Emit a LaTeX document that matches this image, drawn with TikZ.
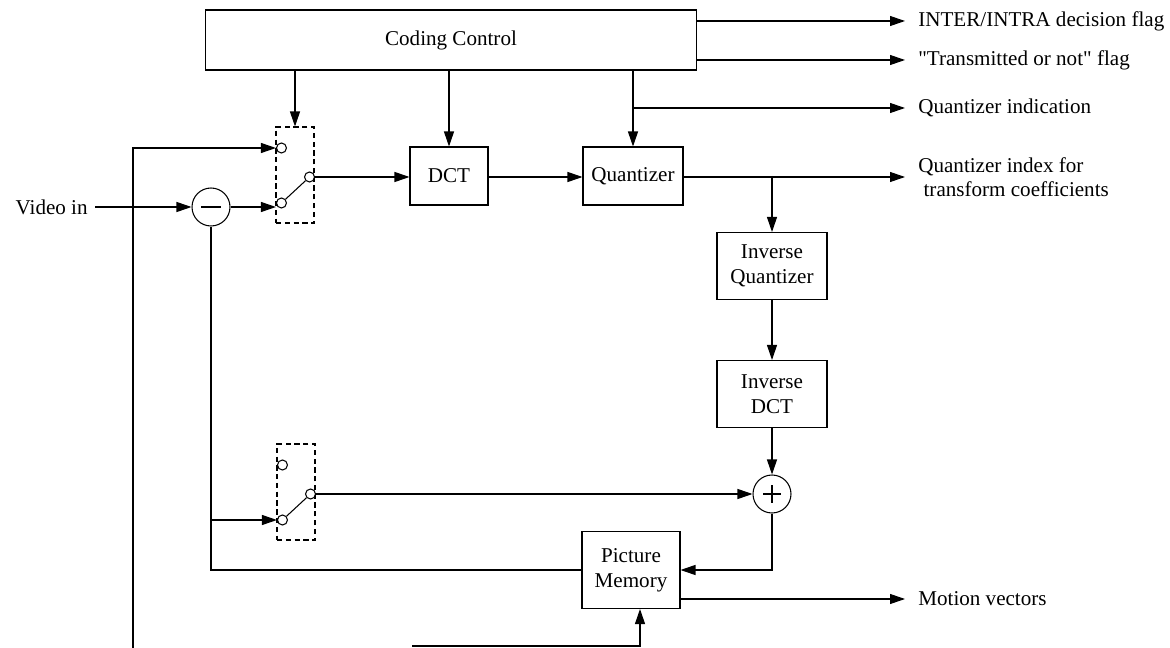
\documentclass[tikz,border=0pt]{standalone}
\usepackage{fontspec}
\setmainfont{Liberation Serif}
\newfontfamily\plainq{Liberation Serif}
\usetikzlibrary{positioning,arrows.meta,calc}

\begin{document}
\begin{tikzpicture}[x=0.02cm,y=-0.02cm,
    font=\fontsize{12}{14}\selectfont,
    box/.style={draw,line width=0.6pt,align=center,inner sep=0pt},
    sw/.style={draw,dash pattern=on 3pt off 2pt,line width=0.6pt,minimum width=0.76cm,minimum height=1.92cm,inner sep=0pt},
    pin/.style={draw,circle,line width=0.6pt,minimum size=0.2cm,inner sep=0pt,fill=white},
    sum/.style={draw,circle,line width=0.6pt,minimum size=0.76cm,inner sep=0pt},
    arr/.style={-{Triangle[length=0.3cm,width=0.2cm]},line width=0.6pt},
    ln/.style={line width=0.6pt},
    lbl/.style={anchor=west,inner xsep=0.26cm,inner ysep=0pt,align=left}
  ]
  \useasboundingbox (0,0) rectangle (1170,648);

  % blocks
  \node[box,minimum width=9.84cm,minimum height=1.2cm] (cc) at (451,40) {Coding Control};
  \node[box,minimum width=1.56cm,minimum height=1.16cm] (dct) at (449,176) {DCT};
  \node[box,minimum width=2cm,minimum height=1.16cm] (quant) at (633,176) {Quantizer};
  \node[box,minimum width=2.2cm,minimum height=1.34cm] (iq) at (772,266) {Inverse\\Quantizer};
  \node[box,minimum width=2.2cm,minimum height=1.34cm] (idct) at (772,394) {Inverse\\DCT};
  \node[box,minimum width=1.96cm,minimum height=1.54cm] (pm) at (631,570) {Picture\\Memory};
  \node[sum] (sub) at (211,207) {};
  \node[sum] (add) at (772,494) {};
  \draw[ln] ($(sub)+(-10,0)$) -- ($(sub)+(10,0)$);
  \draw[ln] ($(add)+(-9,0)$) -- ($(add)+(9,0)$) ($(add)+(0,-9)$) -- ($(add)+(0,9)$);

  % switches
  \foreach \s/\x/\y in {1/295/175,2/296/492}{
    \node[sw] (sw\s) at (\x,\y) {};
    \node[pin] (sw\s-t) at ($(sw\s.west)+(6,-27)$) {};
    \node[pin] (sw\s-b) at ($(sw\s.west)+(6,28)$) {};
    \node[pin] (sw\s-c) at ($(sw\s.east)+(-5,2)$) {};
    \draw[ln] (sw\s-b) -- (sw\s-c);
  }

  % labels
  \node[inner ysep=0pt,inner xsep=0.14cm,anchor=east] (vin) at (95,207) {Video in};
  \node[lbl] (o1) at (905,21) {INTER/INTRA decision flag};
  \node[lbl] (o2) at (905,60) {{\plainq"}Transmitted or not{\plainq"} flag};
  \node[lbl] (o3) at (905,108) {Quantizer indication};
  \node[lbl] (o4) at (905,177) {Quantizer index for\\\hspace{3pt}transform coefficients};
  \node[lbl] (o5) at (905,599) {Motion vectors};
  \coordinate (lft) at (133,648);
  \coordinate (bot) at (412,646);

  % connections
  \draw[arr] (cc.south -| sw1) -- (sw1.north);
  \draw[arr] (cc.south -| dct) -- (dct.north);
  \draw[arr] (cc.south -| quant) -- (quant.north);
  \draw[arr] (cc.east |- o1) -- (o1.west);
  \draw[arr] (cc.east |- o2) -- (o2.west);
  \draw[arr] (quant |- o3) -- (o3.west);
  \draw[arr] (vin) -- (sub);
  \draw[arr] (sub.east) -- (sub.east -| sw1-b.west);
  \draw[arr] (lft) |- (sw1-t.west);
  \draw[arr] (sw1-c.east) -- (sw1-c.east -| dct.west);
  \draw[arr] (dct.east |- sw1-c) -- (quant.west |- sw1-c);
  \draw[arr] (quant.east |- sw1-c) -- (o4.west |- sw1-c);
  \draw[arr] (quant.east -| iq) -- (iq.north);
  \draw[arr] (iq) -- (idct);
  \draw[arr] (idct) -- (add);
  \draw[arr] (sw2-c.east) -- (sw2-c.east -| add.west);
  \draw[arr] (add.south) |- (pm.east);
  \draw[ln] (pm.west) -| (sub.south);
  \draw[arr] (sub.south |- sw2-b) -- (sw2-b.west);
  \draw[arr] (pm.east |- o5) -- (o5.west);
  \draw[arr] (bot) -| ([xshift=0.18cm]pm.south);
\end{tikzpicture}
\end{document}
